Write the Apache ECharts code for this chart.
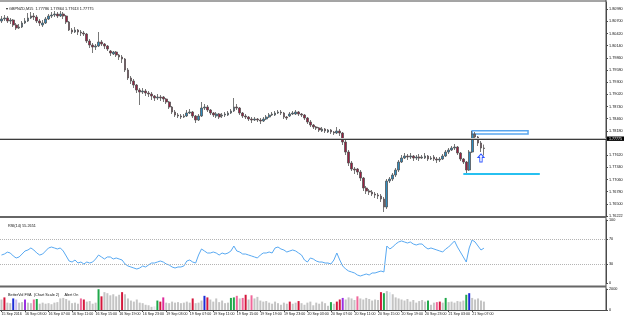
<!DOCTYPE html>
<html>
<head>
<meta charset="utf-8">
<title>GBPNZD,M15</title>
<script src="https://cdn.jsdelivr.net/npm/echarts@6.0.0/dist/echarts.min.js"></script>
<style>
    html, body { margin: 0; padding: 0; background: #fff; }
    #chart { width: 625px; height: 318px; }
</style>
</head>
<body>
<div id="chart"></div>
<script>
var symbolName = 'GBPNZD,M15';

// one row per bar: [open, close, low, high]
var candles = [
    [1.80707, 1.80753, 1.80661, 1.80822], [1.80753, 1.80776, 1.80707, 1.80845], [1.80776, 1.80707, 1.80661, 1.80822],
    [1.80707, 1.80730, 1.80638, 1.80776], [1.80730, 1.80615, 1.80569, 1.80753], [1.80615, 1.80546, 1.80500, 1.80661],
    [1.80546, 1.80569, 1.80523, 1.80638], [1.80569, 1.80661, 1.80546, 1.80707], [1.80661, 1.80707, 1.80638, 1.80776],
    [1.80707, 1.80776, 1.80684, 1.80891], [1.80776, 1.80822, 1.80753, 1.80914], [1.80822, 1.80799, 1.80730, 1.80891],
    [1.80799, 1.80707, 1.80661, 1.80845], [1.80707, 1.80661, 1.80592, 1.80753], [1.80615, 1.80661, 1.80569, 1.80730],
    [1.80661, 1.80753, 1.80638, 1.80799], [1.80753, 1.80822, 1.80730, 1.80868], [1.80822, 1.80845, 1.80776, 1.80914],
    [1.80845, 1.80868, 1.80799, 1.80937], [1.80868, 1.80822, 1.80776, 1.80914], [1.80822, 1.80868, 1.80799, 1.80937],
    [1.80868, 1.80822, 1.80753, 1.80914], [1.80822, 1.80684, 1.80638, 1.80845], [1.80684, 1.80500, 1.80477, 1.80707],
    [1.80500, 1.80454, 1.80408, 1.80546], [1.80454, 1.80500, 1.80431, 1.80569], [1.80500, 1.80454, 1.80385, 1.80523],
    [1.80454, 1.80431, 1.80362, 1.80500], [1.80431, 1.80408, 1.80362, 1.80477], [1.80408, 1.80247, 1.80201, 1.80431],
    [1.80247, 1.80155, 1.80086, 1.80293], [1.80155, 1.80109, 1.79971, 1.80201], [1.80109, 1.80132, 1.80040, 1.80178],
    [1.80132, 1.80224, 1.80109, 1.80454], [1.80224, 1.80178, 1.80132, 1.80270], [1.80178, 1.80132, 1.80063, 1.80201],
    [1.80132, 1.80063, 1.80017, 1.80155], [1.80017, 1.79971, 1.79902, 1.80040], [1.79948, 1.79994, 1.79925, 1.80017],
    [1.79994, 1.79925, 1.79879, 1.80017], [1.79925, 1.79879, 1.79810, 1.79948], [1.79879, 1.79833, 1.79741, 1.79925],
    [1.79833, 1.79580, 1.79534, 1.79856], [1.79580, 1.79396, 1.79350, 1.79626], [1.79396, 1.79327, 1.79258, 1.79442],
    [1.79327, 1.79235, 1.79166, 1.79373], [1.79235, 1.79120, 1.79051, 1.79258], [1.79120, 1.79074, 1.78775, 1.79166],
    [1.79074, 1.79097, 1.79028, 1.79166], [1.79097, 1.79051, 1.78982, 1.79143], [1.79051, 1.79028, 1.78959, 1.79097],
    [1.79028, 1.78982, 1.78890, 1.79074], [1.78982, 1.78936, 1.78867, 1.79005], [1.78936, 1.78959, 1.78890, 1.79028],
    [1.78959, 1.78936, 1.78867, 1.79005], [1.78959, 1.78913, 1.78844, 1.78982], [1.78913, 1.78844, 1.78798, 1.78936],
    [1.78844, 1.78729, 1.78683, 1.78867], [1.78729, 1.78614, 1.78568, 1.78752], [1.78614, 1.78545, 1.78499, 1.78660],
    [1.78545, 1.78522, 1.78476, 1.78591], [1.78522, 1.78499, 1.78453, 1.78568], [1.78499, 1.78522, 1.78476, 1.78568],
    [1.78522, 1.78591, 1.78499, 1.78660], [1.78591, 1.78614, 1.78568, 1.78683], [1.78614, 1.78522, 1.78476, 1.78637],
    [1.78522, 1.78430, 1.78361, 1.78545], [1.78430, 1.78522, 1.78407, 1.78568], [1.78522, 1.78706, 1.78499, 1.78844],
    [1.78706, 1.78729, 1.78660, 1.78798], [1.78729, 1.78660, 1.78614, 1.78775], [1.78660, 1.78591, 1.78545, 1.78683],
    [1.78591, 1.78545, 1.78499, 1.78614], [1.78522, 1.78568, 1.78476, 1.78614], [1.78568, 1.78499, 1.78453, 1.78591],
    [1.78522, 1.78545, 1.78476, 1.78591], [1.78545, 1.78568, 1.78499, 1.78614], [1.78545, 1.78591, 1.78522, 1.78637],
    [1.78591, 1.78637, 1.78568, 1.78683], [1.78637, 1.78729, 1.78614, 1.78936], [1.78729, 1.78706, 1.78660, 1.78798],
    [1.78706, 1.78591, 1.78545, 1.78729], [1.78591, 1.78522, 1.78476, 1.78614], [1.78522, 1.78499, 1.78453, 1.78568],
    [1.78499, 1.78453, 1.78407, 1.78522], [1.78453, 1.78430, 1.78361, 1.78499], [1.78430, 1.78453, 1.78407, 1.78499],
    [1.78453, 1.78430, 1.78384, 1.78476], [1.78430, 1.78407, 1.78338, 1.78476], [1.78407, 1.78453, 1.78384, 1.78499],
    [1.78453, 1.78499, 1.78430, 1.78545], [1.78499, 1.78545, 1.78476, 1.78591], [1.78545, 1.78568, 1.78522, 1.78614],
    [1.78545, 1.78591, 1.78522, 1.78637], [1.78591, 1.78614, 1.78568, 1.78660], [1.78614, 1.78591, 1.78545, 1.78660],
    [1.78591, 1.78499, 1.78453, 1.78614], [1.78499, 1.78476, 1.78430, 1.78522], [1.78522, 1.78568, 1.78499, 1.78614],
    [1.78568, 1.78591, 1.78545, 1.78637], [1.78568, 1.78614, 1.78545, 1.78660], [1.78614, 1.78568, 1.78522, 1.78637],
    [1.78568, 1.78545, 1.78499, 1.78591], [1.78545, 1.78476, 1.78430, 1.78568], [1.78476, 1.78384, 1.78338, 1.78499],
    [1.78384, 1.78315, 1.78269, 1.78430], [1.78315, 1.78269, 1.78223, 1.78338], [1.78269, 1.78246, 1.78200, 1.78292],
    [1.78246, 1.78200, 1.78154, 1.78269], [1.78177, 1.78223, 1.78154, 1.78269], [1.78223, 1.78177, 1.78131, 1.78246],
    [1.78154, 1.78200, 1.78131, 1.78223], [1.78200, 1.78154, 1.78108, 1.78223], [1.78154, 1.78131, 1.78085, 1.78177],
    [1.78131, 1.78177, 1.78108, 1.78269], [1.78177, 1.78131, 1.78062, 1.78223], [1.78131, 1.77924, 1.77855, 1.78154],
    [1.77924, 1.77694, 1.77625, 1.77970], [1.77694, 1.77441, 1.77372, 1.77740], [1.77441, 1.77303, 1.77257, 1.77487],
    [1.77303, 1.77280, 1.77188, 1.77349], [1.77303, 1.77234, 1.77165, 1.77326], [1.77234, 1.77096, 1.77027, 1.77280],
    [1.77096, 1.76866, 1.76797, 1.77119], [1.76866, 1.76797, 1.76728, 1.76912], [1.76797, 1.76774, 1.76705, 1.76843],
    [1.76774, 1.76728, 1.76682, 1.76820], [1.76728, 1.76705, 1.76636, 1.76774], [1.76705, 1.76682, 1.76613, 1.76751],
    [1.76682, 1.76613, 1.76544, 1.76728], [1.76613, 1.76429, 1.76314, 1.76659], [1.76429, 1.77027, 1.76383, 1.77073],
    [1.77027, 1.77073, 1.76981, 1.77119], [1.77073, 1.77165, 1.77027, 1.77211], [1.77165, 1.77280, 1.77119, 1.77326],
    [1.77280, 1.77464, 1.77234, 1.77510], [1.77464, 1.77556, 1.77441, 1.77625], [1.77556, 1.77602, 1.77533, 1.77671],
    [1.77602, 1.77579, 1.77510, 1.77648], [1.77579, 1.77602, 1.77533, 1.77671], [1.77602, 1.77556, 1.77487, 1.77625],
    [1.77556, 1.77579, 1.77510, 1.77625], [1.77579, 1.77556, 1.77487, 1.77648], [1.77556, 1.77579, 1.77533, 1.77625],
    [1.77556, 1.77602, 1.77533, 1.77671], [1.77602, 1.77533, 1.77487, 1.77625], [1.77533, 1.77556, 1.77510, 1.77602],
    [1.77579, 1.77533, 1.77487, 1.77625], [1.77533, 1.77510, 1.77441, 1.77579], [1.77510, 1.77533, 1.77464, 1.77579],
    [1.77533, 1.77602, 1.77510, 1.77648], [1.77602, 1.77694, 1.77579, 1.77740], [1.77694, 1.77740, 1.77648, 1.77786],
    [1.77740, 1.77786, 1.77717, 1.77832], [1.77786, 1.77809, 1.77740, 1.77878], [1.77809, 1.77671, 1.77625, 1.77832],
    [1.77671, 1.77533, 1.77487, 1.77694], [1.77533, 1.77464, 1.77418, 1.77556], [1.77464, 1.77280, 1.77188, 1.77487],
    [1.77280, 1.77694, 1.77257, 1.77740], [1.77694, 1.78108, 1.77671, 1.78177], [1.78108, 1.78039, 1.77970, 1.78154],
    [1.78039, 1.77901, 1.77832, 1.78062], [1.77901, 1.77786, 1.77694, 1.77947], [1.77786, 1.77775, 1.77613, 1.77864]
];

var rsiValues = [
    44.4, 46.0, 49.0, 47.6, 42.9, 39.7, 41.3, 46.0, 50.8, 52.4, 55.6, 52.4, 47.6, 44.4,
    46.0, 50.8, 55.6, 57.1, 55.6, 54.0, 55.6, 50.8, 42.9, 34.9, 33.3, 36.5, 31.7, 33.3, 30.2, 33.3, 31.7, 33.3, 38.1, 44.4, 41.3, 38.1, 41.3,
    41.3, 38.1, 39.7, 38.1, 36.5, 30.2, 27.0, 25.4, 23.8, 22.2, 23.8, 27.0, 25.4, 28.6, 31.7, 31.7, 33.3, 34.9,
    33.3, 30.2, 28.6, 25.4, 23.8, 25.4, 25.4, 27.0, 34.9, 36.5, 33.3, 31.7, 44.4, 54.0, 50.8, 47.6, 47.6, 49.2, 47.6, 44.4,
    47.6, 46.0, 47.6, 50.8, 58.7, 50.8, 49.2, 46.0, 46.0, 44.4, 42.9, 41.3, 39.7, 44.4, 47.6, 47.6, 49.2, 47.6, 55.6, 57.1, 54.0, 52.4, 49.2,
    50.8, 52.4, 50.8, 47.6, 44.4, 36.5, 33.3, 39.7, 38.1, 34.9, 33.3, 33.3, 31.7, 31.7, 30.2, 36.5, 47.6, 36.5, 27.0, 22.2, 19.0, 17.5, 15.9,
    12.7, 11.1, 12.7, 14.3, 12.7, 15.9, 15.9, 17.5, 19.0, 17.5, 58.7, 54.0, 57.1, 61.9, 65.1, 66.7, 65.1, 63.5, 65.1, 61.9, 60.3, 61.9, 61.9,
    57.1, 54.0, 55.6, 54.0, 52.4, 50.8, 49.2, 54.0, 57.1, 61.9, 66.7, 57.1, 49.2, 41.3, 33.3, 55.6, 68.3, 65.1, 58.7, 52.4, 55.2651
];

var volumes = [
    1000, 1200, 700, 650, 1100, 1000, 700, 750, 1000, 700, 650, 1000, 1050, 600,
    700, 600, 650, 550, 700, 750, 1100, 1150, 1050, 900, 650, 700, 600, 1100, 1000, 800, 850, 600, 700, 1980, 1300, 1700, 1600,
    1400, 1500, 1300, 1450, 1700, 1500, 1100, 900, 800, 1000, 700, 650, 500, 450, 300, 350, 900, 800,
    1200, 700, 650, 800, 700, 750, 650, 700, 800, 700, 1100, 650, 700, 900, 1350, 1200, 1000, 800, 1100, 750,
    900, 650, 700, 1150, 1200, 1350, 1100, 1150, 1450, 1000, 1400, 1100, 1250, 900, 800, 850, 700, 600, 800, 650, 500, 700, 600,
    800, 600, 700, 850, 650, 500, 700, 800, 450, 700, 600, 800, 650, 400, 750, 600, 800, 1000, 1150, 1000, 1200, 1100, 950,
    1300, 1100, 1000, 1150, 1050, 900, 1000, 950, 1700, 1600, 1800, 1700, 1500, 1200, 1100, 1000, 900, 1050, 800, 950, 700, 850, 950,
    800, 900, 500, 700, 750, 800, 700, 1150, 750, 800, 700, 850, 800, 900, 1450, 1600, 1150, 1000, 1100, 900, 800
];

// BetterVolume bar type per bar: n normal, r climax, p climax low, g churn, b low volume,
// u climax churn, m churn high, l low churn, w quiet
var volumeTypes = ('nrnnblnnunnpgn' + 'nnnnnnnnnnnnnprnnnngrnn' + 'nnnnrnnnnnnnnnnwgr' + 'mnnnnnnnnnrnnnbrnnnn' +
    'nnnggpnprnp' + 'nnnnnnnnnnnn' + 'rnnrnnnnnnnnnngnrrunnnn' + 'pnnnnnnnrgnwnnnnnnnnnnn' + 'ngnnprngnnnnnngbnnnnn').split('');

var timeLabels = ['15 Sep 2016', '16 Sep 03:00', '16 Sep 07:00', '16 Sep 11:00', '16 Sep 15:00', '16 Sep 19:00',
    '16 Sep 23:00', '19 Sep 03:00', '19 Sep 07:00', '19 Sep 11:00', '19 Sep 15:00', '19 Sep 19:00', '19 Sep 23:00',
    '20 Sep 03:00', '20 Sep 07:00', '20 Sep 11:00', '20 Sep 15:00', '20 Sep 19:00', '20 Sep 23:00', '21 Sep 03:00',
    '21 Sep 07:00'];

var priceTicks = [1.80980, 1.80700, 1.80420, 1.80140, 1.79860, 1.79580, 1.79300, 1.79020, 1.78740, 1.78460,
    1.78180, 1.77620, 1.77340, 1.77060, 1.76780, 1.76500, 1.76222];
var rsiTicks = [0, 30, 70, 100];
var rsiLevels = [70, 30];
var volumeTicks = [0, 2000];

// objects drawn on the chart
var lineLevel = 1.77901;
var bidPrice = 1.77775;
var supportLevel = 1.77188, supportFrom = 157, supportTo = 183;
var zoneTop = 1.78183, zoneBottom = 1.78108, zoneFrom = 160, zoneTo = 179;
var arrowBar = 163, arrowPrice = 1.77556;

var slotCount = 206;
var labelStep = 8;

var font = 'Liberation Sans';
var axisColor = '#4a4a4a';
var volumeColors = {
    n: '#c4c4c4', r: '#d4173c', p: '#f0679a', g: '#1fa84a', b: '#1c2bd6',
    u: '#9a30e0', m: '#de2a9c', l: '#cdbcee', w: '#e4eaf0'
};

var slots = [];
for (var i = 0; i < slotCount; i++) {
    slots.push('b' + i);
}

function showTime(index) {
    return index % labelStep === 0 && index / labelStep < timeLabels.length;
}

var last = candles[candles.length - 1];
var headText = '\u25BE ' + symbolName + '  ' + [last[0], last[3], last[2], last[1]].map(function (v) {
    return v.toFixed(5);
}).join(' ');

var chart = echarts.init(document.getElementById('chart'));

function hiddenX(gridIndex) {
    return {
        type: 'category', gridIndex: gridIndex, data: slots, boundaryGap: true,
        axisLine: {show: false}, axisTick: {show: false}, axisLabel: {show: false}, splitLine: {show: false}
    };
}

function sideAxis(gridIndex, min, max, ticks, digits) {
    return {
        type: 'value', gridIndex: gridIndex, position: 'right', min: min, max: max,
        splitLine: {show: false},
        axisLine: {show: true, lineStyle: {color: axisColor, width: 1}},
        axisTick: {show: true, length: 2, customValues: ticks, lineStyle: {color: axisColor}},
        axisLabel: {
            customValues: ticks, margin: 3, fontSize: 3.8, fontFamily: font, color: '#111',
            formatter: function (v) { return v.toFixed(digits); }
        }
    };
}

var labelBox = {
    show: true, position: 'end', distance: 1, fontSize: 3.6, fontFamily: font,
    color: '#fff', backgroundColor: '#000', padding: [0, 2]
};

var option = {
    animation: false,
    backgroundColor: '#fff',
    title: [
        {text: headText, left: 1, top: 2, textStyle: {fontSize: 3.8, fontWeight: 'normal', color: '#111', fontFamily: font}},
        {text: 'RSI(14) ' + rsiValues[rsiValues.length - 1].toFixed(4), left: 3, top: 219,
            textStyle: {fontSize: 3.8, fontWeight: 'normal', color: '#111', fontFamily: font}},
        {text: 'BetterVol FVA  (Chart Scale 2)     Alert On', left: 3, top: 288,
            textStyle: {fontSize: 3.8, fontWeight: 'normal', color: '#111', fontFamily: font}}
    ],
    grid: [
        {left: 0, right: 19, top: 2, height: 214, outerBoundsMode: 'none'},
        {left: 0, right: 19, top: 220, height: 63, outerBoundsMode: 'none'},
        {left: 0, right: 19, top: 289, height: 21, outerBoundsMode: 'none'}
    ],
    xAxis: [
        hiddenX(0),
        hiddenX(1),
        {
            type: 'category', gridIndex: 2, data: slots, boundaryGap: true,
            axisLine: {show: true, lineStyle: {color: axisColor, width: 1}},
            axisTick: {show: true, length: 2, alignWithLabel: true, interval: showTime, lineStyle: {color: axisColor}},
            axisLabel: {
                interval: showTime, align: 'left', margin: 2, fontSize: 3.6, fontFamily: font, color: '#111',
                formatter: function (v, index) { return timeLabels[index / labelStep] || ''; }
            },
            splitLine: {show: false}
        }
    ],
    yAxis: [
        sideAxis(0, 1.76222, 1.81144, priceTicks, 5),
        sideAxis(1, 0, 100, rsiTicks, 0),
        sideAxis(2, 0, 2000, volumeTicks, 0)
    ],
    series: [
        {
            name: symbolName,
            type: 'candlestick',
            xAxisIndex: 0,
            yAxisIndex: 0,
            data: candles,
            barWidth: 2.2,
            itemStyle: {
                color: '#2f8cbf', color0: '#9a1f42',
                borderColor: '#555', borderColor0: '#555', borderWidth: 0.8
            },
            markLine: {
                silent: true,
                symbol: 'none',
                data: [
                    {yAxis: lineLevel, lineStyle: {color: '#3c3c3c', width: 2, type: 'solid'},
                        label: Object.assign({}, labelBox, {formatter: lineLevel.toFixed(5)})},
                    {yAxis: bidPrice, lineStyle: {color: '#c4c4c4', width: 1, type: 'solid'},
                        label: Object.assign({}, labelBox, {formatter: bidPrice.toFixed(5)})},
                    [
                        {coord: [supportFrom, supportLevel], lineStyle: {color: '#27c0f0', width: 2, type: 'solid'}, label: {show: false}},
                        {coord: [supportTo, supportLevel]}
                    ]
                ]
            },
            markArea: {
                silent: true,
                data: [[
                    {coord: [zoneFrom, zoneTop], itemStyle: {color: 'rgba(255,255,255,0)', borderColor: '#5aa6ee', borderWidth: 1.5}},
                    {coord: [zoneTo, zoneBottom]}
                ]]
            },
            markPoint: {
                silent: true,
                label: {show: false},
                data: [{
                    coord: [arrowBar, arrowPrice],
                    symbol: 'path://M5,0 L10,5 L7,5 L7,12 L3,12 L3,5 L0,5 Z',
                    symbolSize: [6, 8],
                    itemStyle: {color: '#fff', borderColor: '#2f55ff', borderWidth: 1}
                }]
            }
        },
        {
            name: 'RSI(14)',
            type: 'line',
            xAxisIndex: 1,
            yAxisIndex: 1,
            data: rsiValues,
            symbol: 'none',
            lineStyle: {color: '#58a9f2', width: 1},
            markLine: {
                silent: true,
                symbol: 'none',
                label: {show: false},
                lineStyle: {color: '#b4b4b4', width: 1, type: 'dotted'},
                data: rsiLevels.map(function (v) { return {yAxis: v}; })
            }
        },
        {
            name: 'BetterVol',
            type: 'bar',
            xAxisIndex: 2,
            yAxisIndex: 2,
            barWidth: 2,
            data: volumes.map(function (v, j) {
                return {value: v, itemStyle: {color: volumeColors[volumeTypes[j]]}};
            })
        }
    ],
    graphic: [
        {type: 'line', silent: true, shape: {x1: 0, y1: 1, x2: 606, y2: 1}, style: {stroke: axisColor, lineWidth: 1}},
        {type: 'line', silent: true, shape: {x1: 606, y1: 0, x2: 606, y2: 311}, style: {stroke: axisColor, lineWidth: 1}},
        {type: 'line', silent: true, shape: {x1: 0, y1: 217, x2: 606, y2: 217}, style: {stroke: '#666', lineWidth: 2}},
        {type: 'line', silent: true, shape: {x1: 0, y1: 286.5, x2: 606, y2: 286.5}, style: {stroke: '#666', lineWidth: 2}}
    ]
};

chart.setOption(option, true);
</script>
</body>
</html>
